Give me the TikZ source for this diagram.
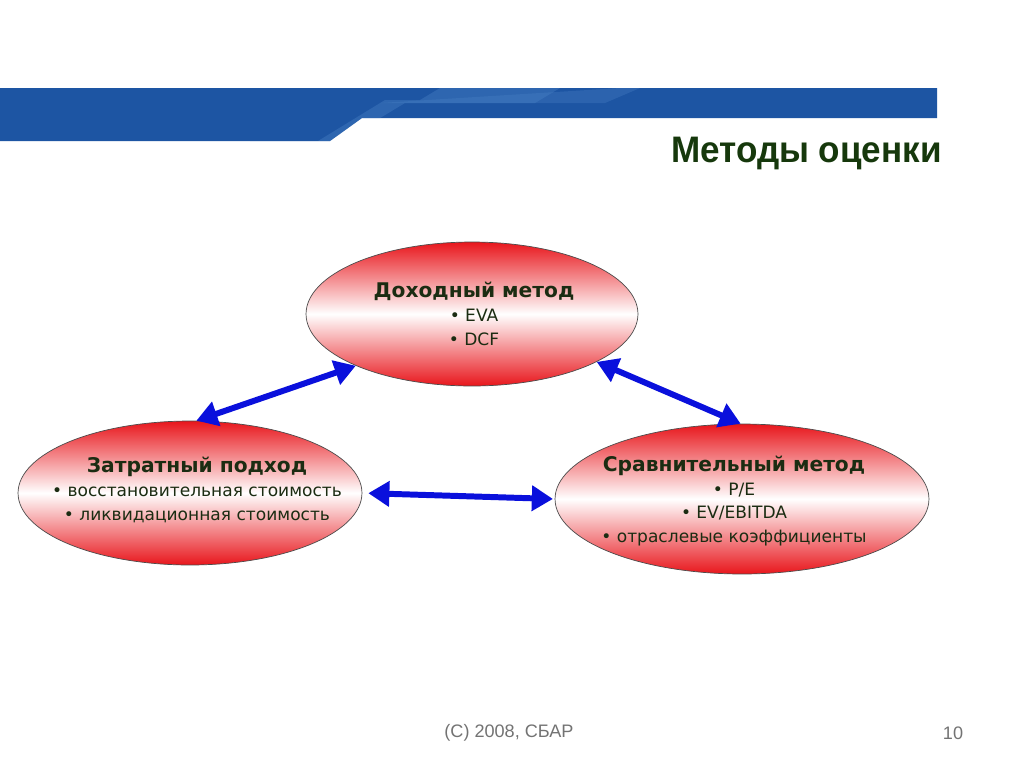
\documentclass[tikz,border=0pt]{standalone}
\usepackage{fontspec}
\setmainfont{DejaVu Sans}
\newfontfamily\headfont{Liberation Sans}
\usetikzlibrary{shapes.geometric,arrows.meta}

\definecolor{bandblue}{HTML}{1D55A3}
\definecolor{bandlight}{HTML}{4F86C9}
\definecolor{txtgreen}{HTML}{1B2C12}
\definecolor{headgreen}{HTML}{16380C}
\definecolor{arrblue}{HTML}{0A10DC}
\definecolor{ellred}{HTML}{E8161C}

\begin{document}
\begin{tikzpicture}[x=0.02cm, y=-0.02cm]
		\tikzset{meth/.style={ellipse, draw=black!70, line width=0.4pt, top color=ellred, bottom color=ellred, middle color=white, inner sep=0pt}};
		\tikzset{methtxt/.style={align=center, inner sep=0pt, text=txtgreen, font=\fontsize{9.7}{13.6}\selectfont}};
		\tikzset{link/.style={arrblue, line width=3.4pt, {Triangle[length=12pt, width=14pt]}-{Triangle[length=12pt, width=14pt]}}};

		\useasboundingbox (0,0) rectangle (1024,768);
		\fill[white] (0,0) rectangle (1024,768);

		% banner
		\fill[bandblue] (0,88) -- (937,88) -- (937,118) -- (362,118) -- (330,141) -- (0,141) -- cycle;
		\begin{scope}
			\clip (0,88) -- (937,88) -- (937,118) -- (362,118) -- (330,141) -- (0,141) -- cycle;
			\fill[bandlight, opacity=0.35] (250,141) -- (318,141) -- (385,100) -- (420,100) -- (440,88) -- (560,88) -- (535,103) -- (405,103) -- (342,141) -- (330,141) -- cycle;
			\fill[bandlight, opacity=0.3] (380,103) -- (620,88) -- (640,88) -- (605,103) -- cycle;
		\end{scope}
		\node[anchor=base east, text=headgreen, inner sep=0pt] (head) at (942,162) {\headfont\fontsize{21}{22}\selectfont\bfseries\scalebox{0.95}[1]{Методы оценки}};

		\node[meth, minimum width=6.64cm, minimum height=2.88cm] (dohod) at (472,314) {};
		\node[methtxt] (dohodtxt) at (474,314) {{\fontsize{11.5}{13.6}\selectfont\bfseries Доходный метод}\\• EVA\\• DCF};

		\node[meth, minimum width=6.88cm, minimum height=2.88cm] (zatr) at (190,493) {};
		\node[methtxt] (zatrtxt) at (197,490) {{\fontsize{11.5}{13.6}\selectfont\bfseries Затратный подход}\\• восстановительная стоимость\\• ликвидационная стоимость};

		\node[meth, minimum width=7.48cm, minimum height=3.0cm] (sravn) at (742,499) {};
		\node[methtxt] (sravntxt) at (734,501) {{\fontsize{11.5}{13.6}\selectfont\bfseries Сравнительный метод}\\• P/E\\• EV/EBITDA\\• отраслевые коэффициенты};

		\draw[link] (zatr.85) to (dohod.204);
		\draw[link] (dohod.339) to (sravn.91);
		\draw[link, shorten <=3.4pt, shorten >=1pt] (zatr.east) to (sravn.west);

		\node[text=black!55, inner sep=0pt] (copy) at (509,733) {\headfont\fontsize{10.3}{12}\selectfont (C) 2008, СБАР};
		\node[text=black!55, inner sep=0pt] (page) at (953,733) {\headfont\fontsize{10.3}{12}\selectfont 10};
	\end{tikzpicture}
\end{document}
